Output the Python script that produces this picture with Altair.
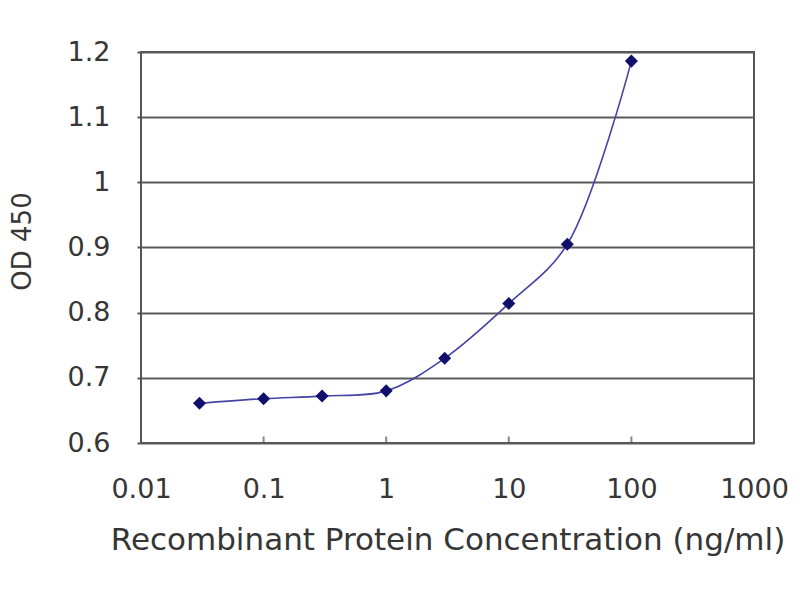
import pandas as pd
import altair as alt

conc = [0.03, 0.1, 0.3, 1, 3, 10, 30, 100]
od450 = [0.661, 0.668, 0.672, 0.680, 0.730, 0.814, 0.905, 1.186]
x_ticks = [0.01, 0.1, 1, 10, 100, 1000]
y_ticks = [0.6, 0.7, 0.8, 0.9, 1.0, 1.1, 1.2]

df = pd.DataFrame({"conc": conc, "od": od450})
ticks_df = pd.DataFrame({"t": x_ticks[1:-1], "y0": [0.6] * 4})

FONT = "DejaVu Sans"
TXT = "#363636"

x_enc = alt.X(
    "conc:Q",
    scale=alt.Scale(type="log", domain=[0.01, 1000]),
    axis=alt.Axis(
        values=x_ticks,
        format="~g",
        grid=False,
        ticks=False,
        domain=False,
        labelFont=FONT,
        labelFontSize=27,
        labelColor=TXT,
        labelPadding=33,
        labelFlush=False,
        title="Recombinant Protein Concentration (ng/ml)",
        titleFont=FONT,
        titleFontSize=31,
        titleFontWeight="normal",
        titleColor=TXT,
        titleBaseline="alphabetic",
        titleY=106,
    ),
)
y_enc = alt.Y(
    "od:Q",
    scale=alt.Scale(domain=[0.6, 1.2], nice=False, zero=False),
    axis=alt.Axis(
        values=y_ticks,
        format="~g",
        grid=True,
        gridColor="#5a5a5a",
        gridWidth=2,
        tickColor="#555555",
        tickSize=4,
        tickWidth=2,
        domain=False,
        labelFont=FONT,
        labelFontSize=27,
        labelColor=TXT,
        labelPadding=27,
        labelFlush=False,
        title="OD 450",
        titleFont=FONT,
        titleFontSize=26,
        titleFontWeight="normal",
        titleColor=TXT,
        titleAngle=270,
        titleAlign="center",
        titleBaseline="middle",
        titleX=-119,
        titleY=189,
    ),
)

line = alt.Chart(df).mark_line(
    interpolate="catmull-rom", color="#4444a6", strokeWidth=1.6
).encode(x=x_enc, y=y_enc)

points = alt.Chart(df).mark_point(
    shape="diamond", filled=True, size=170, color="#10106a", opacity=1
).encode(x="conc:Q", y="od:Q")

inner_ticks = alt.Chart(ticks_df).mark_tick(
    color="#555555", thickness=2, size=7, orient="vertical", yOffset=-3
).encode(x="t:Q", y="y0:Q")

chart = (
    alt.layer(inner_ticks, line, points)
    .properties(
        width=613,
        height=391,
        autosize=alt.AutoSizeParams(type="none"),
        padding={"left": 133, "top": 44, "right": 38, "bottom": 149},
        background="white",
    )
    .configure_view(stroke="#555555", strokeWidth=2)
)

chart.save("out.html", embed_options={"renderer": "svg", "actions": False})
